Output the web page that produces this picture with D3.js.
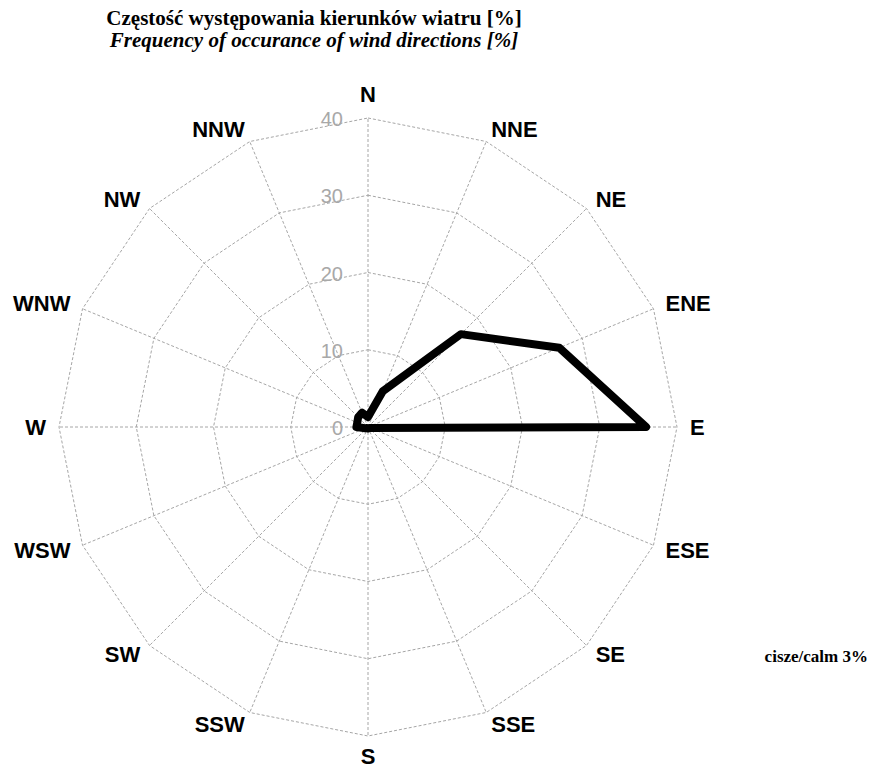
<!DOCTYPE html>
<html>
<head>
<meta charset="utf-8">
<script src="https://cdn.jsdelivr.net/npm/d3@7"></script>
<style>
  body { margin: 0; background: #fff; }
  svg { display: block; }
</style>
</head>
<body>
<div id="container"></div>
<script>
// wind rose values, clockwise from N
const directions = ["N", "NNE", "NE", "ENE", "E", "ESE", "SE", "SSE", "S", "SSW", "SW", "WSW", "W", "WNW", "NW", "NNW"];
const frequency = [1.3, 5.0, 17.0, 26.8, 36.0, 0.3, 0.2, 0.2, 0.2, 0.2, 0.2, 0.4, 1.5, 1.5, 1.8, 2.0];
const ringTicks = [0, 10, 20, 30, 40];
const titleLines = ["Częstość występowania kierunków wiatru [%]", "Frequency of occurance of wind directions [%]"];
const calmLabel = "cisze/calm 3%";

const width = 876;
const height = 767;
const cx = 368;
const cy = 427;
const outerRadius = 309;

const svg = d3.create("svg")
    .attr("width", width)
    .attr("height", height);

const r = d3.scaleLinear()
    .domain([0, 40])
    .range([0, outerRadius]);

const angle = d3.scalePoint()
    .domain(directions)
    .range([0, 2 * Math.PI * (directions.length - 1) / directions.length]);

const g = svg.append("g")
    .attr("transform", `translate(${cx},${cy})`);

const pt = (dir, v) => {
    const a = angle(dir);
    return [r(v) * Math.sin(a), -r(v) * Math.cos(a)];
};

// grid rings (16-gons)
g.selectAll(".ring")
    .data(ringTicks.filter(t => t > 0))
    .enter().append("path")
    .attr("class", "ring")
    .attr("d", t => d3.line()(directions.map(d => pt(d, t))) + "Z")
    .attr("fill", "none")
    .attr("stroke", "#a6a6a6")
    .attr("stroke-width", 1)
    .attr("stroke-dasharray", "3,2");

// spokes
g.selectAll(".spoke")
    .data(directions)
    .enter().append("line")
    .attr("class", "spoke")
    .attr("x1", 0).attr("y1", 0)
    .attr("x2", d => pt(d, 40)[0])
    .attr("y2", d => pt(d, 40)[1])
    .attr("stroke", "#a6a6a6")
    .attr("stroke-width", 1)
    .attr("stroke-dasharray", "3,2");

// ring values
g.selectAll(".tick-label")
    .data(ringTicks)
    .enter().append("text")
    .attr("class", "tick-label")
    .attr("x", -25)
    .attr("y", t => -r(t) + 1)
    .attr("text-anchor", "end")
    .attr("dominant-baseline", "central")
    .attr("font-family", "Liberation Sans, Arial, sans-serif")
    .attr("font-size", 20)
    .attr("fill", "#a8a8a8")
    .text(t => t);

// direction labels
g.selectAll(".dir-label")
    .data(directions)
    .enter().append("text")
    .attr("class", "dir-label")
    .each(function(d) {
        const a = angle(d);
        const sx = Math.sin(a), sy = -Math.cos(a);
        const [tx, ty] = pt(d, 40);
        let anchor = "middle", off = 13;
        if (Math.abs(sx) < 0.01) off = sy < 0 ? 24 : 20;
        else anchor = sx > 0 ? "start" : "end";
        d3.select(this)
            .attr("x", tx + off * sx)
            .attr("y", ty + off * sy)
            .attr("text-anchor", anchor);
    })
    .attr("dominant-baseline", "central")
    .attr("font-family", "Liberation Sans, Arial, sans-serif")
    .attr("font-weight", "bold")
    .attr("font-size", 22)
    .attr("fill", "#000")
    .text(d => d);

// data polygon
g.append("path")
    .datum(directions.map((d, i) => pt(d, frequency[i])))
    .attr("d", d => d3.line()(d) + "Z")
    .attr("fill", "none")
    .attr("stroke", "#000")
    .attr("stroke-width", 8)
    .attr("stroke-linejoin", "round");

// title
svg.selectAll(".title")
    .data(titleLines)
    .enter().append("text")
    .attr("class", "title")
    .attr("x", 314)
    .attr("y", (d, i) => 25 + i * 22)
    .attr("text-anchor", "middle")
    .attr("font-family", "Liberation Serif, Times New Roman, serif")
    .attr("font-weight", "bold")
    .attr("font-style", (d, i) => i === 1 ? "italic" : "normal")
    .attr("font-size", 21)
    .text(d => d);

svg.append("text")
    .attr("x", 868)
    .attr("y", 662)
    .attr("text-anchor", "end")
    .attr("font-family", "Liberation Serif, Times New Roman, serif")
    .attr("font-weight", "bold")
    .attr("font-size", 17)
    .text(calmLabel);

document.querySelector("#container").appendChild(svg.node());
</script>
</body>
</html>
